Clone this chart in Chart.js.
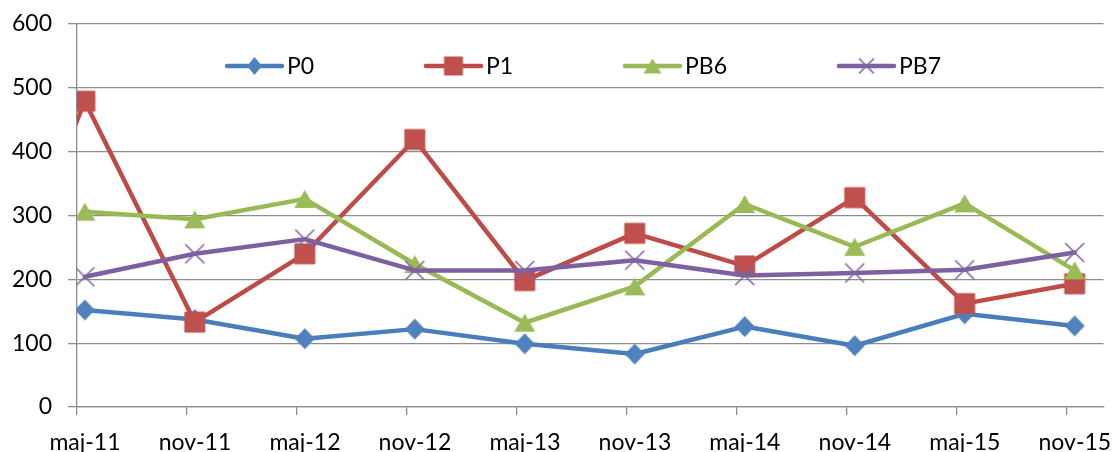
<!DOCTYPE html>
<html>
<head>
<meta charset="utf-8">
<title>P0 / P1 / PB6 / PB7</title>
<script src="https://cdn.jsdelivr.net/npm/chart.js@4.4.1/dist/chart.umd.min.js"></script>
<style>
  html, body { margin: 0; padding: 0; background: #ffffff; }
  #wrap { width: 1118px; height: 452px; position: relative; }
</style>
</head>
<body>
<div id="wrap"><canvas id="chart" width="1118" height="452"></canvas></div>
<script>
// Sampling dates (half-yearly, mid-month). Months counted from May 2011.
const CATEGORIES = ['nov-10', 'maj-11', 'nov-11', 'maj-12', 'nov-12', 'maj-13', 'nov-13', 'maj-14', 'nov-14', 'maj-15', 'nov-15'];
const MONTH_INDEX = [-6, 0, 6, 12, 18, 24, 30, 36, 42, 48, 54];
const SAMPLE_DAY = 14;

// Axis tick labels (one every six months) and value ticks
const TICK_LABELS = ['maj-11', 'nov-11', 'maj-12', 'nov-12', 'maj-13', 'nov-13', 'maj-14', 'nov-14', 'maj-15', 'nov-15'];
const TICK_MONTHS = [0, 6, 12, 18, 24, 30, 36, 42, 48, 54];
const Y_MIN = 0, Y_MAX = 600, Y_STEP = 100;
const X_MIN = 0, X_MAX = 56;

// Series values
const P0  = [null, 152, 137, 107, 122,  99,  83, 126,  96, 146, 127];
const P1  = [  50, 479, 133, 240, 419, 198, 272, 221, 328, 162, 193];
const PB6 = [null, 306, 294, 326, 224, 132, 189, 318, 251, 319, 214];
const PB7 = [null, 204, 240, 263, 214, 214, 230, 206, 210, 215, 242];

const SERIES_NAMES = ['P0', 'P1', 'PB6', 'PB7'];

const FONT = 'Lato, "Open Sans", "Liberation Sans", sans-serif';
const FONT_SIZE = 23;
const GRID = '#8c8c8c';

// Marker images, centred on their point
function makeMarker(kind, w, h, fill, stroke) {
  const pad = 2;
  const c = document.createElement('canvas');
  c.width = w + pad * 2; c.height = h + pad * 2;
  const g = c.getContext('2d');
  const cx = c.width / 2, cy = c.height / 2;
  g.fillStyle = fill; g.strokeStyle = stroke;
  g.beginPath();
  if (kind === 'diamond') {
    g.moveTo(cx, cy - h / 2); g.lineTo(cx + w / 2, cy); g.lineTo(cx, cy + h / 2); g.lineTo(cx - w / 2, cy);
    g.closePath(); g.fill();
  } else if (kind === 'square') {
    g.rect(cx - w / 2, cy - h / 2, w, h); g.fill();
    g.lineWidth = 1; g.stroke();
  } else if (kind === 'triangle') {
    g.moveTo(cx, cy - h / 2); g.lineTo(cx + w / 2, cy + h / 2); g.lineTo(cx - w / 2, cy + h / 2);
    g.closePath(); g.fill();
  } else if (kind === 'cross') {
    g.lineWidth = 1.6;
    g.moveTo(cx - w / 2, cy - h / 2); g.lineTo(cx + w / 2, cy + h / 2);
    g.moveTo(cx + w / 2, cy - h / 2); g.lineTo(cx - w / 2, cy + h / 2);
    g.stroke();
  }
  return c;
}

const LINE_COLORS   = ['#4A7EBB', '#BE4B48', '#98B954', '#7D60A0'];
const MARKER_COLORS = ['#4F81BD', '#C0504D', '#9BBB59', '#8064A2'];
const MARKER_KINDS  = ['diamond', 'square', 'triangle', 'cross'];
const MARKER_SIZE   = [[20, 21], [20, 20], [21, 18], [19, 19]];
const KEY_MARKER_SIZE = [[15, 18], [18, 18], [18, 15], [15, 15]];

const plotMarkers = MARKER_KINDS.map((k, i) => makeMarker(k, MARKER_SIZE[i][0], MARKER_SIZE[i][1], MARKER_COLORS[i], MARKER_COLORS[i]));
const keyMarkers  = MARKER_KINDS.map((k, i) => makeMarker(k, KEY_MARKER_SIZE[i][0], KEY_MARKER_SIZE[i][1], MARKER_COLORS[i], MARKER_COLORS[i]));

function toPoints(values) {
  const pts = [];
  values.forEach((v, i) => {
    if (v !== null) pts.push({ x: MONTH_INDEX[i] + (SAMPLE_DAY - 1) / 30.5, y: v });
  });
  return pts;
}

const SERIES = [P0, P1, PB6, PB7];
const datasets = SERIES.map((vals, i) => ({
  label: SERIES_NAMES[i],
  data: toPoints(vals),
  borderColor: LINE_COLORS[i],
  backgroundColor: MARKER_COLORS[i],
  borderWidth: 4.5,
  borderJoinStyle: 'round',
  borderCapStyle: 'round',
  tension: 0,
  pointStyle: plotMarkers[i],
  pointRadius: (ctx) => (ctx.raw && ctx.raw.x < X_MIN ? 0 : 10),
  pointHoverRadius: 10,
  order: SERIES.length - 1 - i
}));

// Series key drawn inside the top of the plot area
const seriesKey = {
  id: 'seriesKey',
  afterDraw(chart, args, opts) {
    const ctx = chart.ctx;
    ctx.save();
    chart.data.datasets.forEach((ds, i) => {
      const x = opts.starts[i], y = opts.y;
      ctx.strokeStyle = ds.borderColor;
      ctx.lineWidth = ds.borderWidth;
      ctx.lineCap = 'round';
      ctx.beginPath();
      ctx.moveTo(x, y);
      ctx.lineTo(x + opts.lineLength, y);
      ctx.stroke();
      const m = keyMarkers[i];
      ctx.drawImage(m, x + opts.lineLength / 2 - m.width / 2, y - m.height / 2);
      ctx.fillStyle = '#000000';
      ctx.font = FONT_SIZE + 'px ' + FONT;
      ctx.textAlign = 'left';
      ctx.textBaseline = 'middle';
      ctx.fillText(ds.label, x + opts.lineLength + opts.gap, y + 1);
    });
    ctx.restore();
  }
};

new Chart(document.getElementById('chart'), {
  type: 'line',
  data: { datasets },
  plugins: [seriesKey],
  options: {
    responsive: false,
    animation: false,
    events: [],
    layout: { padding: { top: 24, right: 12, left: 0, bottom: 0 } },
    plugins: {
      legend: { display: false },
      tooltip: { enabled: false },
      seriesKey: { starts: [227, 426, 625, 839], y: 66, lineLength: 55, gap: 5 }
    },
    scales: {
      x: {
        type: 'linear',
        min: X_MIN,
        max: X_MAX,
        afterBuildTicks(scale) {
          scale.ticks = TICK_MONTHS.map(v => ({ value: v }));
        },
        afterFit(scale) { scale.height = 45; },
        ticks: {
          callback: (value) => TICK_LABELS[TICK_MONTHS.indexOf(value)],
          autoSkip: false,
          maxRotation: 0,
          minRotation: 0,
          labelOffset: 8,
          padding: 14,
          color: '#000000',
          font: { family: FONT, size: FONT_SIZE }
        },
        grid: {
          drawOnChartArea: false,
          drawTicks: true,
          tickLength: 8,
          color: GRID,
          lineWidth: 1.3
        },
        border: { display: true, color: GRID, width: 1.3 }
      },
      y: {
        min: Y_MIN,
        max: Y_MAX,
        afterFit(scale) {
          scale.width = 77;
          scale.paddingTop = 0;
          scale.paddingBottom = 0;
        },
        ticks: {
          stepSize: Y_STEP,
          padding: 16,
          color: '#000000',
          font: { family: FONT, size: FONT_SIZE }
        },
        grid: {
          color: GRID,
          lineWidth: 1.3,
          tickLength: 9
        },
        border: { display: true, color: GRID, width: 1.3 }
      }
    }
  }
});
</script>
</body>
</html>
